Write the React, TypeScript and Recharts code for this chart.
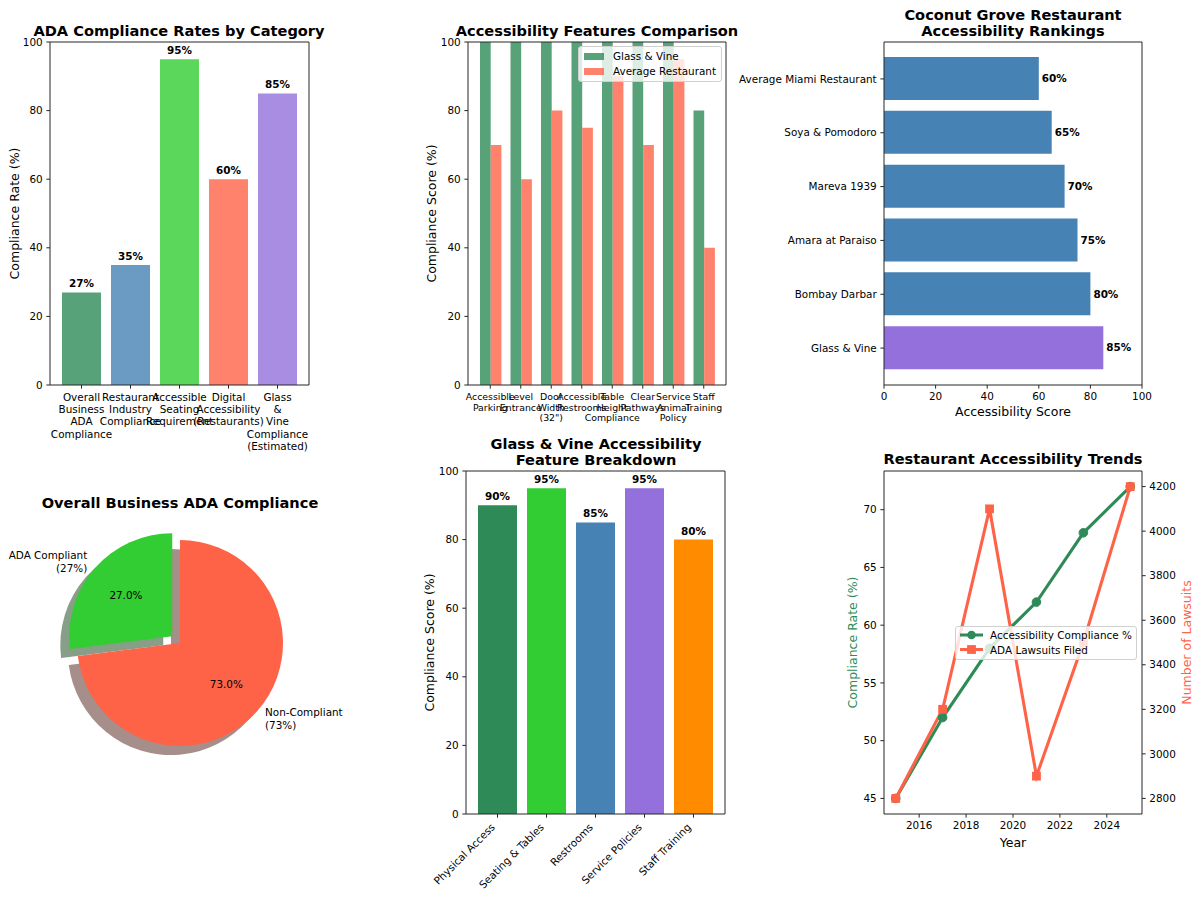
import React from 'react';
import { BarChart, Bar, XAxis, YAxis, Cell, LabelList, PieChart, Pie, LineChart, Line } from 'recharts';

const FONT = '"DejaVu Sans", Verdana, sans-serif';
const INK = '#262626';
const PT = 75 / 72;
const F_TICK = 10 * PT;
const F_SMALL = 9 * PT;
const F_LABEL = 12 * PT;
const F_TITLE = 14 * PT;
const TICK_LEN = 3.5 * PT;

// ---------- data ----------
const categoryLabels = [
  'Overall\nBusiness\nADA\nCompliance',
  'Restaurant\nIndustry\nCompliance',
  'Accessible\nSeating\nRequirement',
  'Digital\nAccessibility\n(Restaurants)',
  'Glass\n&\nVine\nCompliance\n(Estimated)',
];
const categoryRates = [27, 35, 95, 60, 85];
const categoryColors = ['#2E8B57', '#4682B4', '#32CD32', '#FF6347', '#9370DB'];

const featureLabels = [
  'Accessible\nParking',
  'Level\nEntrance',
  'Door\nWidth\n(32")',
  'Accessible\nRestrooms',
  'Table\nHeight\nCompliance',
  'Clear\nPathways',
  'Service\nAnimal\nPolicy',
  'Staff\nTraining',
];
const glassVineFeatureScores = [100, 100, 100, 100, 100, 100, 100, 80];
const averageFeatureScores = [70, 60, 80, 75, 90, 70, 95, 40];

const restaurantNames = ['Glass & Vine', 'Bombay Darbar', 'Amara at Paraiso', 'Mareva 1939', 'Soya & Pomodoro', 'Average Miami Restaurant'];
const restaurantScores = [85, 80, 75, 70, 65, 60];
const restaurantColors = ['#9370DB', '#4682B4', '#4682B4', '#4682B4', '#4682B4', '#4682B4'];

const pieLabels = ['ADA Compliant', 'Non-Compliant'];
const pieValues = [27, 73];
const pieColors = ['#32CD32', '#FF6347'];
const pieShadowColors = ['#879e87', '#a68e8a'];

const breakdownLabels = ['Physical Access', 'Seating & Tables', 'Restrooms', 'Service Policies', 'Staff Training'];
const breakdownScores = [90, 95, 85, 95, 80];
const breakdownColors = ['#2E8B57', '#32CD32', '#4682B4', '#9370DB', '#FF8C00'];

const trendYears = [2015, 2017, 2019, 2021, 2023, 2025];
const trendCompliance = [45, 52, 58, 62, 68, 72];
const trendLawsuits = [2800, 3200, 4100, 2900, 3500, 4200];

const pctTicks = [0, 20, 40, 60, 80, 100];
const yearTicks = [2016, 2018, 2020, 2022, 2024];
const complianceTicks = [45, 50, 55, 60, 65, 70];
const lawsuitTicks = [2800, 3000, 3200, 3400, 3600, 3800, 4000, 4200];

// ---------- derived tables ----------
const categoryData = categoryLabels.map((name, i) => ({ name, value: categoryRates[i] }));
const featureData = featureLabels.map((name, i) => ({ name, gv: glassVineFeatureScores[i], avg: averageFeatureScores[i] }));
const restaurantData = restaurantNames.map((name, i) => ({ name, value: restaurantScores[i] }));
const pieData = pieLabels.map((name, i) => ({ name, value: pieValues[i] }));
const breakdownData = breakdownLabels.map((name, i) => ({ name, value: breakdownScores[i] }));
const trendData = trendYears.map((year, i) => ({ year, compliance: trendCompliance[i], lawsuits: trendLawsuits[i] }));

const padDomain = (arr: number[]): [number, number] => {
  const lo = Math.min(...arr);
  const hi = Math.max(...arr);
  const m = (hi - lo) * 0.05;
  return [lo - m, hi + m];
};
const yearDomain = padDomain(trendYears);
const complianceDomain = padDomain(trendCompliance);
const lawsuitDomain = padDomain(trendLawsuits);

// ---------- style helpers ----------
const axisLine = { stroke: INK, strokeWidth: 1 };
const tickLine = { stroke: INK, strokeWidth: 1 };
const tickText = { fill: '#000', fontSize: F_TICK, fontFamily: FONT };

const MultiTick = (props: any) => {
  const { x, y, payload, size, lh } = props;
  const lines = String(payload.value).split('\n');
  return (
    <text x={x} y={y} textAnchor="middle" fontSize={size} fontFamily={FONT} fill="#000">
      {lines.map((l, i) => (
        <tspan key={i} x={x} dy={i === 0 ? size * 0.82 : lh}>
          {l}
        </tspan>
      ))}
    </text>
  );
};

const RotTick = (props: any) => {
  const { x, y, payload } = props;
  return (
    <text
      transform={`translate(${x - 1.8},${y + 6.6}) rotate(-45)`}
      textAnchor="end"
      fontSize={F_TICK}
      fontFamily={FONT}
      fill="#000"
    >
      {payload.value}
    </text>
  );
};

const SquareDot = (props: any) => {
  const { cx, cy, index } = props;
  if (cx == null || cy == null) return <g key={index} />;
  return <rect key={index} x={cx - 4.4} y={cy - 4.4} width={8.8} height={8.8} fill="#FF6347" />;
};

// ---------- pie geometry ----------
const RAD = Math.PI / 180;
const PIE_CX = 180;
const PIE_CY = 213;
const PIE_R = 103;
const pieTotal = pieValues.reduce((a, b) => a + b, 0);
const firstMid = 90 + (360 * pieValues[0]) / pieTotal / 2;
const EXPLODE = 0.1 * PIE_R;
const exX = EXPLODE * Math.cos(firstMid * RAD);
const exY = -EXPLODE * Math.sin(firstMid * RAD);
const SHX = -9;
const SHY = 9;

const makePieLabel = (which: number, cx0: number, cy0: number) => (p: any) => {
  if (p.index !== which) return <g key={`l${p.index}`} />;
  const cx = typeof p.cx === 'number' ? p.cx : cx0;
  const cy = typeof p.cy === 'number' ? p.cy : cy0;
  const r = typeof p.outerRadius === 'number' ? p.outerRadius : PIE_R;
  const a = p.midAngle * RAD;
  const lx = cx + 1.1 * r * Math.cos(a);
  const ly = cy - 1.1 * r * Math.sin(a);
  const px = cx + 0.6 * r * Math.cos(a);
  const py = cy - 0.6 * r * Math.sin(a);
  const anchor = Math.cos(a) < 0 ? 'end' : 'start';
  const pct = (p.value / pieTotal) * 100;
  return (
    <g key={`l${p.index}`} fontFamily={FONT} fontSize={F_TICK} fill="#000">
      <text x={lx} y={ly - 6.2} textAnchor={anchor} dominantBaseline="central" fill="#000">
        {p.name}
      </text>
      <text x={lx} y={ly + 6.6} textAnchor={anchor} dominantBaseline="central" fill="#000">
        {`(${p.value}%)`}
      </text>
      <text x={px} y={py} textAnchor="middle" dominantBaseline="central" fill="#000">
        {`${pct.toFixed(1)}%`}
      </text>
    </g>
  );
};

const box = (left: number, top: number, w: number, h: number): React.CSSProperties => ({
  position: 'absolute',
  left,
  top,
  width: w,
  height: h,
});

const barLabelProps = { fill: '#000', fontSize: F_TICK, fontWeight: 'bold', fontFamily: FONT };

export default function App() {
  return (
    <div
      style={{
        position: 'absolute',
        left: 0,
        top: 0,
        width: 1200,
        height: 899,
        background: '#fff',
        overflow: 'hidden',
        fontFamily: FONT,
      }}
    >
      {/* Panel 1 */}
      <div style={box(0, 0, 340, 470)}>
        <BarChart width={340} height={470} data={categoryData} margin={{ top: 41, right: 30, bottom: 5, left: 0 }}>
          <XAxis
            dataKey="name"
            interval={0}
            height={80}
            padding={{ left: 7, right: 7 }}
            tickSize={TICK_LEN}
            tickMargin={TICK_LEN}
            axisLine={axisLine}
            tickLine={tickLine}
            tick={(p: any) => <MultiTick {...p} size={F_TICK} lh={12.3} />}
          />
          <XAxis xAxisId="top" dataKey="name" orientation="top" height={1} tick={false} tickLine={false} axisLine={axisLine} padding={{ left: 7, right: 7 }} />
          <YAxis domain={[0, 100]} ticks={pctTicks} width={50} tickSize={TICK_LEN} tickMargin={TICK_LEN} axisLine={axisLine} tickLine={tickLine} tick={tickText} allowDataOverflow />
          <YAxis yAxisId="right" orientation="right" width={1} tick={false} tickLine={false} axisLine={axisLine} />
          <Bar dataKey="value" barSize={39} isAnimationActive={false}>
            {categoryData.map((d, i) => (
              <Cell key={d.name} fill={categoryColors[i]} fillOpacity={0.8} />
            ))}
            <LabelList dataKey="value" position="top" offset={5} formatter={(v: any) => `${v}%`} {...barLabelProps} />
          </Bar>
        </BarChart>
      </div>

      {/* Panel 2 */}
      <div style={box(400, 0, 340, 470)}>
        <BarChart width={340} height={470} data={featureData} margin={{ top: 41, right: 13, bottom: 5, left: 0 }} barGap={0}>
          <XAxis
            dataKey="name"
            interval={0}
            height={80}
            padding={{ left: 7, right: 7 }}
            tickSize={TICK_LEN}
            tickMargin={TICK_LEN}
            axisLine={axisLine}
            tickLine={tickLine}
            tick={(p: any) => <MultiTick {...p} size={F_SMALL} lh={10.6} />}
          />
          <XAxis xAxisId="top" dataKey="name" orientation="top" height={1} tick={false} tickLine={false} axisLine={axisLine} padding={{ left: 7, right: 7 }} />
          <YAxis domain={[0, 100]} ticks={pctTicks} width={68} tickSize={TICK_LEN} tickMargin={TICK_LEN} axisLine={axisLine} tickLine={tickLine} tick={tickText} allowDataOverflow />
          <YAxis yAxisId="right" orientation="right" width={1} tick={false} tickLine={false} axisLine={axisLine} />
          <Bar dataKey="gv" name="Glass & Vine" barSize={10.7} fill="#2E8B57" fillOpacity={0.8} isAnimationActive={false} />
          <Bar dataKey="avg" name="Average Restaurant" barSize={10.7} fill="#FF6347" fillOpacity={0.8} isAnimationActive={false} />
        </BarChart>
      </div>

      {/* Panel 3 */}
      <div style={box(700, 0, 500, 470)}>
        <BarChart layout="vertical" width={500} height={470} data={restaurantData} margin={{ top: 41, right: 57, bottom: 5, left: 0 }}>
          <XAxis type="number" domain={[0, 100]} ticks={pctTicks} height={80} tickSize={TICK_LEN} tickMargin={TICK_LEN} axisLine={axisLine} tickLine={tickLine} tick={tickText} allowDataOverflow />
          <XAxis xAxisId="top" type="number" orientation="top" domain={[0, 100]} height={1} tick={false} tickLine={false} axisLine={axisLine} />
          <YAxis type="category" dataKey="name" reversed interval={0} width={184} padding={{ top: 10, bottom: 10 }} tickSize={TICK_LEN} tickMargin={TICK_LEN} axisLine={axisLine} tickLine={tickLine} tick={tickText} />
          <YAxis yAxisId="right" type="category" dataKey="name" orientation="right" width={1} tick={false} tickLine={false} axisLine={axisLine} />
          <Bar dataKey="value" barSize={43} isAnimationActive={false}>
            {restaurantData.map((d, i) => (
              <Cell key={d.name} fill={restaurantColors[i]} />
            ))}
            <LabelList dataKey="value" position="right" offset={3} formatter={(v: any) => `${v}%`} {...barLabelProps} />
          </Bar>
        </BarChart>
      </div>

      {/* Panel 4 - pie */}
      <div style={box(0, 430, 400, 469)}>
        <PieChart width={400} height={469} margin={{ top: 0, right: 0, bottom: 0, left: 0 }}>
          <Pie data={pieData} dataKey="value" cx={PIE_CX + exX + SHX} cy={PIE_CY + exY + SHY} outerRadius={PIE_R} startAngle={90} endAngle={450} stroke="none" isAnimationActive={false} label={false} labelLine={false}>
            {pieData.map((d, i) => (
              <Cell key={d.name} fill={i === 0 ? pieShadowColors[0] : 'none'} />
            ))}
          </Pie>
          <Pie data={pieData} dataKey="value" cx={PIE_CX + SHX} cy={PIE_CY + SHY} outerRadius={PIE_R} startAngle={90} endAngle={450} stroke="none" isAnimationActive={false} label={false} labelLine={false}>
            {pieData.map((d, i) => (
              <Cell key={d.name} fill={i === 1 ? pieShadowColors[1] : 'none'} />
            ))}
          </Pie>
          <Pie data={pieData} dataKey="value" cx={PIE_CX} cy={PIE_CY} outerRadius={PIE_R} startAngle={90} endAngle={450} stroke="none" isAnimationActive={false} labelLine={false} label={makePieLabel(1, PIE_CX, PIE_CY)}>
            {pieData.map((d, i) => (
              <Cell key={d.name} fill={i === 1 ? pieColors[1] : 'none'} />
            ))}
          </Pie>
          <Pie data={pieData} dataKey="value" cx={PIE_CX + exX} cy={PIE_CY + exY} outerRadius={PIE_R} startAngle={90} endAngle={450} stroke="none" isAnimationActive={false} labelLine={false} label={makePieLabel(0, PIE_CX + exX, PIE_CY + exY)}>
            {pieData.map((d, i) => (
              <Cell key={d.name} fill={i === 0 ? pieColors[0] : 'none'} />
            ))}
          </Pie>
        </PieChart>
      </div>

      {/* Panel 5 */}
      <div style={box(400, 430, 340, 469)}>
        <BarChart width={340} height={469} data={breakdownData} margin={{ top: 40, right: 14, bottom: 0, left: 0 }}>
          <XAxis dataKey="name" interval={0} height={85} padding={{ left: 7, right: 7 }} tickSize={TICK_LEN} tickMargin={TICK_LEN} axisLine={axisLine} tickLine={tickLine} tick={(p: any) => <RotTick {...p} />} />
          <XAxis xAxisId="top" dataKey="name" orientation="top" height={1} tick={false} tickLine={false} axisLine={axisLine} padding={{ left: 7, right: 7 }} />
          <YAxis domain={[0, 100]} ticks={pctTicks} width={66} tickSize={TICK_LEN} tickMargin={TICK_LEN} axisLine={axisLine} tickLine={tickLine} tick={tickText} allowDataOverflow />
          <YAxis yAxisId="right" orientation="right" width={1} tick={false} tickLine={false} axisLine={axisLine} />
          <Bar dataKey="value" barSize={39} isAnimationActive={false}>
            {breakdownData.map((d, i) => (
              <Cell key={d.name} fill={breakdownColors[i]} />
            ))}
            <LabelList dataKey="value" position="top" offset={5} formatter={(v: any) => `${v}%`} {...barLabelProps} />
          </Bar>
        </BarChart>
      </div>

      {/* Panel 6 */}
      <div style={box(830, 430, 370, 469)}>
        <LineChart width={370} height={469} data={trendData} margin={{ top: 40, right: 0, bottom: 0, left: 0 }}>
          <XAxis dataKey="year" type="number" domain={yearDomain} ticks={yearTicks} height={85} tickSize={TICK_LEN} tickMargin={TICK_LEN} axisLine={axisLine} tickLine={tickLine} tick={tickText} allowDataOverflow />
          <XAxis xAxisId="top" dataKey="year" type="number" domain={yearDomain} orientation="top" height={1} tick={false} tickLine={false} axisLine={axisLine} allowDataOverflow />
          <YAxis yAxisId="left" domain={complianceDomain} ticks={complianceTicks} width={54} tickSize={TICK_LEN} tickMargin={TICK_LEN} axisLine={axisLine} tickLine={tickLine} tick={tickText} allowDataOverflow />
          <YAxis yAxisId="right" orientation="right" domain={lawsuitDomain} ticks={lawsuitTicks} width={58} tickSize={TICK_LEN} tickMargin={TICK_LEN} axisLine={axisLine} tickLine={tickLine} tick={tickText} allowDataOverflow />
          <Line yAxisId="left" dataKey="compliance" stroke="#2E8B57" strokeWidth={3.1} dot={{ r: 4.3, fill: '#2E8B57', stroke: '#2E8B57', strokeWidth: 1 }} isAnimationActive={false} />
          <Line yAxisId="right" dataKey="lawsuits" stroke="#FF6347" strokeWidth={3.1} dot={(p: any) => <SquareDot {...p} />} isAnimationActive={false} />
        </LineChart>
      </div>

      {/* Legend panel 2 */}
      <div
        style={{
          position: 'absolute',
          left: 578,
          top: 46,
          width: 144,
          height: 36,
          boxSizing: 'border-box',
          background: 'rgba(255,255,255,0.8)',
          border: '1px solid #d0d0d0',
          borderRadius: 3,
          fontSize: F_TICK,
          color: '#000',
        }}
      >
        <div style={{ position: 'absolute', left: 5, top: 6, width: 20, height: 7, background: '#2E8B57', opacity: 0.8 }} />
        <div style={{ position: 'absolute', left: 34, top: 2, lineHeight: '14px', whiteSpace: 'nowrap' }}>Glass &amp; Vine</div>
        <div style={{ position: 'absolute', left: 5, top: 21, width: 20, height: 7, background: '#FF6347', opacity: 0.8 }} />
        <div style={{ position: 'absolute', left: 34, top: 17, lineHeight: '14px', whiteSpace: 'nowrap' }}>Average Restaurant</div>
      </div>

      {/* Legend panel 6 */}
      <div
        style={{
          position: 'absolute',
          left: 955,
          top: 626,
          width: 182,
          height: 34,
          boxSizing: 'border-box',
          background: 'rgba(255,255,255,0.8)',
          border: '1px solid #d0d0d0',
          borderRadius: 3,
          fontSize: F_TICK,
          color: '#000',
        }}
      >
        <svg width={40} height={34} style={{ position: 'absolute', left: 0, top: 0 }}>
          <line x1={4} x2={27} y1={8} y2={8} stroke="#2E8B57" strokeWidth={3} />
          <circle cx={15.5} cy={8} r={4.3} fill="#2E8B57" />
          <line x1={4} x2={27} y1={22.5} y2={22.5} stroke="#FF6347" strokeWidth={3} />
          <rect x={11.1} y={18.1} width={8.8} height={8.8} fill="#FF6347" />
        </svg>
        <div style={{ position: 'absolute', left: 34, top: 1, lineHeight: '14px', whiteSpace: 'nowrap' }}>Accessibility Compliance %</div>
        <div style={{ position: 'absolute', left: 34, top: 15.5, lineHeight: '14px', whiteSpace: 'nowrap' }}>ADA Lawsuits Filed</div>
      </div>

      {/* Titles and axis labels */}
      <svg width={1200} height={899} style={{ position: 'absolute', left: 0, top: 0, pointerEvents: 'none' }} fontFamily={FONT}>
        <g fontSize={F_TITLE} fontWeight="bold" textAnchor="middle" fill="#000">
          <text x={179} y={36}>ADA Compliance Rates by Category</text>
          <text x={597} y={36}>Accessibility Features Comparison</text>
          <text x={1013} y={19.5}>Coconut Grove Restaurant</text>
          <text x={1013} y={36}>Accessibility Rankings</text>
          <text x={180} y={508}>Overall Business ADA Compliance</text>
          <text x={596} y={448.5}>Glass &amp; Vine Accessibility</text>
          <text x={596} y={465}>Feature Breakdown</text>
          <text x={1013} y={464}>Restaurant Accessibility Trends</text>
        </g>
        <g fontSize={F_LABEL} textAnchor="middle" fill="#000">
          <text x={14} y={213.5} transform="rotate(-90 14 213.5)" dominantBaseline="central">Compliance Rate (%)</text>
          <text x={431} y={213.5} transform="rotate(-90 431 213.5)" dominantBaseline="central">Compliance Score (%)</text>
          <text x={429} y={642.5} transform="rotate(-90 429 642.5)" dominantBaseline="central">Compliance Score (%)</text>
          <text x={852} y={642.5} transform="rotate(-90 852 642.5)" dominantBaseline="central" fill="#2E8B57">Compliance Rate (%)</text>
          <text x={1186} y={642.5} transform="rotate(-90 1186 642.5)" dominantBaseline="central" fill="#FF6347">Number of Lawsuits</text>
          <text x={1013} y={416}>Accessibility Score</text>
          <text x={1013} y={847}>Year</text>
        </g>
      </svg>
    </div>
  );
}
